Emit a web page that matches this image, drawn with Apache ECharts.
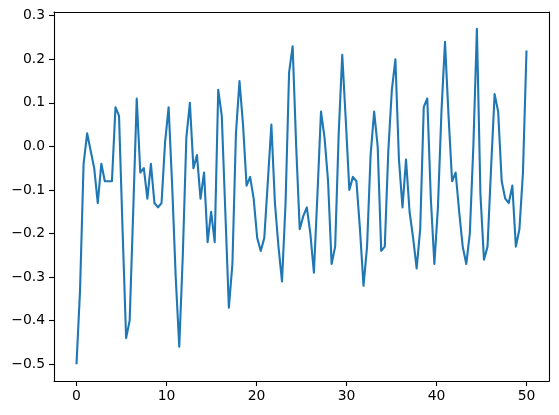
<!DOCTYPE html>
<html>
<head>
<meta charset="utf-8">
<script src="https://cdn.jsdelivr.net/npm/echarts@6/dist/echarts.min.js"></script>
<style>
  html, body { margin: 0; padding: 0; background: #fff; }
  #chart { width: 559px; height: 415px; }
</style>
</head>
<body>
<div id="chart"></div>
<script>
// samples are evenly spaced from 0 to 50
var xStart = 0;
var xEnd = 50;
var values = [
  -0.50, -0.33, -0.04, 0.03, -0.01, -0.05, -0.13, -0.04, -0.08, -0.08,
  -0.08, 0.09, 0.07, -0.19, -0.44, -0.40, -0.15, 0.11, -0.06, -0.05,
  -0.12, -0.04, -0.13, -0.14, -0.13, 0.01, 0.09, -0.09, -0.30, -0.46,
  -0.25, 0.02, 0.10, -0.05, -0.02, -0.12, -0.06, -0.22, -0.15, -0.22,
  0.13, 0.07, -0.15, -0.37, -0.27, 0.03, 0.15, 0.05, -0.09, -0.07,
  -0.12, -0.21, -0.24, -0.21, -0.08, 0.05, -0.13, -0.23, -0.31, -0.13,
  0.17, 0.23, 0.00, -0.19, -0.16, -0.14, -0.20, -0.29, -0.11, 0.08,
  0.02, -0.08, -0.27, -0.23, 0.03, 0.21, 0.06, -0.10, -0.07, -0.08,
  -0.19, -0.32, -0.23, -0.02, 0.08, 0.00, -0.24, -0.23, -0.01, 0.13,
  0.20, -0.03, -0.14, -0.03, -0.15, -0.21, -0.28, -0.19, 0.09, 0.11,
  -0.12, -0.27, -0.14, 0.08, 0.24, 0.07, -0.08, -0.06, -0.15, -0.23,
  -0.27, -0.20, 0.00, 0.27, -0.11, -0.26, -0.23, -0.05, 0.12, 0.08,
  -0.08, -0.12, -0.13, -0.09, -0.23, -0.19, -0.06, 0.22
];
var xTicks = [0, 10, 20, 30, 40, 50];
var yTicks = [-0.5, -0.4, -0.3, -0.2, -0.1, 0.0, 0.1, 0.2, 0.3];

var step = (xEnd - xStart) / (values.length - 1);
var points = values.map(function (v, i) { return [xStart + i * step, v]; });

var font = 'DejaVu Sans';
function minus(s) { return s.replace('-', '\u2212'); }

var xMin = -2.5, xMax = 52.5, yMin = -0.5385, yMax = 0.3085;
var spine = { show: true, onZero: false, lineStyle: { color: '#000', width: 1.1 } };

var chart = echarts.init(document.getElementById('chart'), null, { renderer: 'canvas' });
chart.setOption({
  animation: false,
  backgroundColor: '#fff',
  grid: { left: 54, top: 12, width: 495, height: 369 },
  xAxis: [{
    type: 'value', position: 'bottom', min: xMin, max: xMax,
    axisLine: spine,
    splitLine: { show: false },
    axisTick: { show: true, length: 5, lineStyle: { color: '#000', width: 1.1 }, customValues: xTicks },
    axisLabel: {
      customValues: xTicks, margin: 8, color: '#000', fontFamily: font, fontSize: 13.9,
      formatter: function (v) { return minus(String(v)); }
    }
  }, {
    type: 'value', position: 'top', min: xMin, max: xMax,
    axisLine: spine, axisTick: { show: false }, axisLabel: { show: false }, splitLine: { show: false }
  }],
  yAxis: [{
    type: 'value', position: 'left', min: yMin, max: yMax,
    axisLine: spine,
    splitLine: { show: false },
    axisTick: { show: true, length: 5, lineStyle: { color: '#000', width: 1.1 }, customValues: yTicks },
    axisLabel: {
      customValues: yTicks, margin: 9, color: '#000', fontFamily: font, fontSize: 13.9,
      formatter: function (v) { return minus(v.toFixed(1)); }
    }
  }, {
    type: 'value', position: 'right', min: yMin, max: yMax,
    axisLine: spine, axisTick: { show: false }, axisLabel: { show: false }, splitLine: { show: false }
  }],
  series: [{
    type: 'line',
    data: points,
    showSymbol: false,
    lineStyle: { color: '#1f77b4', width: 2.1, join: 'round', cap: 'butt' }
  }]
});
</script>
</body>
</html>
